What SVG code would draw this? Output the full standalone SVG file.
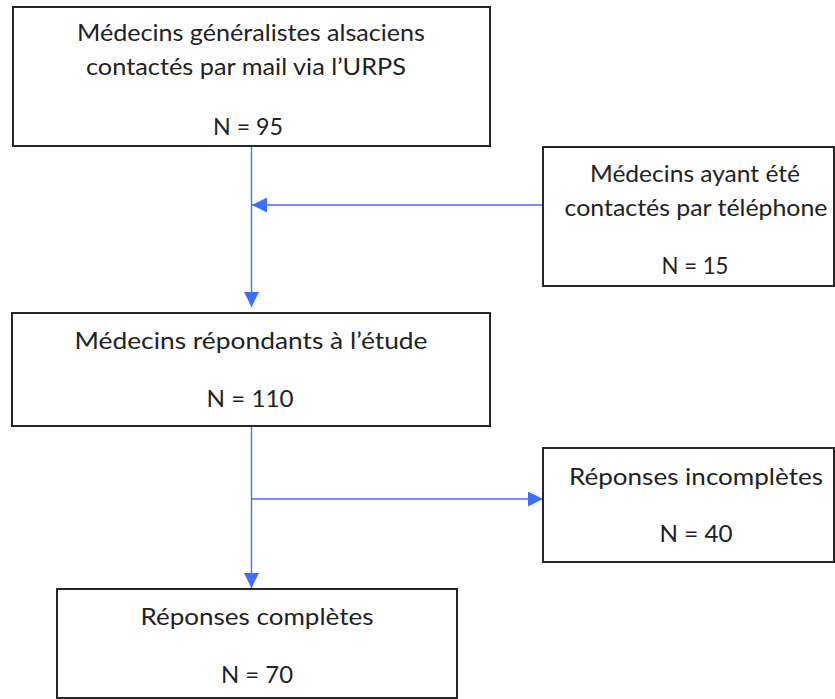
<svg xmlns="http://www.w3.org/2000/svg" width="835" height="699" viewBox="0 0 835 699">
<style>
.box{fill:#fff;stroke:#262626;stroke-width:2}
.t{font-family:Lato,"Open Sans","Liberation Sans",sans-serif;font-size:23px;fill:#222;text-anchor:middle}
.c{stroke:#4472f4;stroke-width:1.4;fill:none}
</style>
<defs>
<marker id="ah" markerUnits="userSpaceOnUse" markerWidth="16" markerHeight="15" refX="15" refY="7.5" orient="auto">
<path d="M0,0 L15,7.5 L0,15 z" fill="#3d6eff"/>
</marker>
</defs>
<rect width="835" height="699" fill="#fff"/>
<g id="connectors">
<line class="c" x1="251.5" y1="147" x2="251.5" y2="307" marker-end="url(#ah)"/>
<line class="c" x1="543" y1="205" x2="252" y2="205" marker-end="url(#ah)"/>
<line class="c" x1="251.5" y1="427" x2="251.5" y2="588" marker-end="url(#ah)"/>
<line class="c" x1="251.5" y1="499" x2="543" y2="499" marker-end="url(#ah)"/>
</g>
<g id="n1">
<rect class="box" x="13" y="7" width="477" height="139"/>
<text class="t" x="251" y="41" textLength="348" lengthAdjust="spacingAndGlyphs">Médecins généralistes alsaciens</text>
<text class="t" x="246" y="75" textLength="320" lengthAdjust="spacingAndGlyphs">contactés par mail via l’URPS</text>
<text class="t" x="248" y="135" textLength="70" lengthAdjust="spacingAndGlyphs">N = 95</text>
</g>
<g id="n2">
<rect class="box" x="543" y="147" width="291" height="139"/>
<text class="t" x="695" y="182" textLength="210" lengthAdjust="spacingAndGlyphs">Médecins ayant été</text>
<text class="t" x="696" y="216" textLength="263" lengthAdjust="spacingAndGlyphs">contactés par téléphone</text>
<text class="t" x="695" y="274" textLength="67" lengthAdjust="spacingAndGlyphs">N = 15</text>
</g>
<g id="n3">
<rect class="box" x="12" y="313" width="478" height="113"/>
<text class="t" x="251" y="349" textLength="353" lengthAdjust="spacingAndGlyphs">Médecins répondants à l’étude</text>
<text class="t" x="250" y="407" textLength="87" lengthAdjust="spacingAndGlyphs">N = 110</text>
</g>
<g id="n4">
<rect class="box" x="543" y="448" width="291" height="114"/>
<text class="t" x="696" y="485" textLength="254" lengthAdjust="spacingAndGlyphs">Réponses incomplètes</text>
<text class="t" x="696" y="542" textLength="73" lengthAdjust="spacingAndGlyphs">N = 40</text>
</g>
<g id="n5">
<rect class="box" x="57" y="589" width="400" height="109"/>
<text class="t" x="257" y="625" textLength="233" lengthAdjust="spacingAndGlyphs">Réponses complètes</text>
<text class="t" x="257" y="683" textLength="72" lengthAdjust="spacingAndGlyphs">N = 70</text>
</g>
</svg>
